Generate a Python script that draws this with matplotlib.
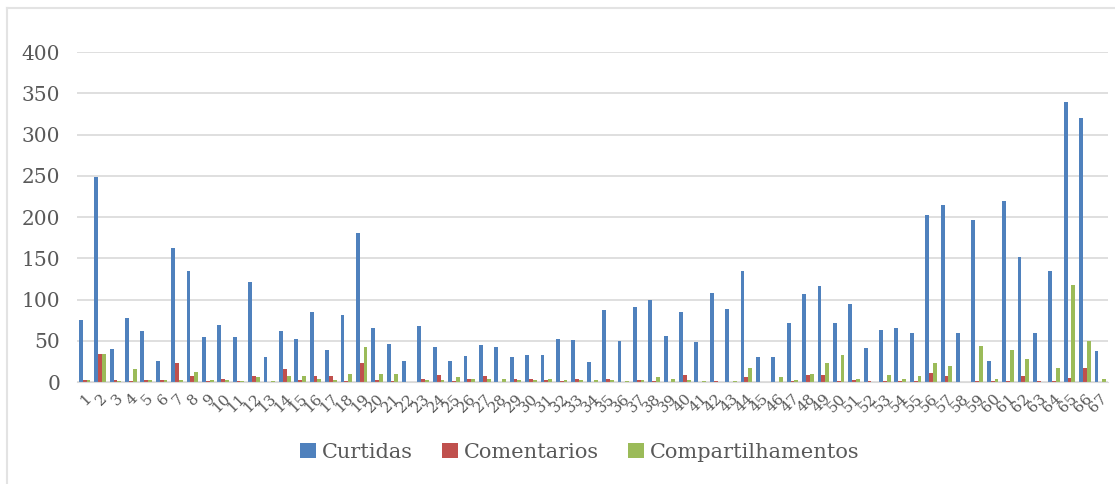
import numpy as np
import matplotlib.pyplot as plt
from matplotlib.lines import Line2D

# dados por publicacao (1..67)
posts = [str(i) for i in range(1, 68)]
curtidas = [75, 248, 40, 77, 62, 26, 162, 134, 55, 69, 54, 121, 30, 62, 52, 85, 39,
            81, 181, 65, 46, 25, 68, 43, 26, 32, 45, 43, 30, 33, 33, 52, 51, 24,
            87, 50, 91, 99, 56, 85, 49, 108, 88, 134, 30, 30, 72, 107, 116, 71,
            94, 41, 63, 65, 59, 202, 215, 60, 196, 26, 219, 151, 59, 134, 339, 320, 37]
comentarios = [3, 34, 3, 1, 3, 3, 23, 7, 1, 4, 1, 7, 0, 16, 3, 7, 7,
               1, 23, 3, 1, 0, 4, 9, 1, 4, 7, 0, 4, 4, 3, 1, 4, 0,
               4, 0, 2, 1, 0, 9, 0, 1, 0, 6, 0, 0, 1, 9, 9, 1,
               3, 1, 1, 1, 1, 11, 7, 0, 1, 1, 1, 7, 1, 1, 5, 17, 0]
compartilhamentos = [3, 34, 1, 16, 3, 3, 3, 12, 3, 2, 1, 6, 1, 7, 7, 4, 2,
                     10, 43, 10, 10, 0, 2, 3, 6, 4, 4, 4, 2, 3, 4, 3, 3, 2,
                     3, 1, 2, 6, 4, 2, 1, 0, 1, 17, 0, 6, 3, 10, 23, 33,
                     4, 0, 8, 4, 7, 23, 20, 0, 44, 4, 39, 28, 0, 17, 118, 50, 4]

azul = "#4F81BD"
vermelho = "#C0504D"
verde = "#9BBB59"
cinza = "#595959"

plt.rcParams['font.family'] = 'DejaVu Serif'

fig = plt.figure(figsize=(11.15, 4.84), dpi=100)
ax = fig.add_axes([77 / 1115, 1 - 382 / 484, (1108 - 77) / 1115, (382 - 52) / 484])

x = np.arange(len(posts))
w = 0.25
ax.bar(x - w, curtidas, w, color=azul, label="Curtidas")
ax.bar(x, comentarios, w, color=vermelho, label="Comentarios")
ax.bar(x + w, compartilhamentos, w, color=verde, label="Compartilhamentos")

ax.set_xlim(-0.5, len(posts) - 0.5)
ax.set_ylim(0, 400)
ax.set_yticks(range(0, 401, 50))
ax.grid(axis='y', color='#D9D9D9', linewidth=1.2)
ax.set_axisbelow(True)
for s in ['top', 'right', 'left']:
    ax.spines[s].set_visible(False)
ax.spines['bottom'].set_color('#D9D9D9')

ax.set_xticks(x)
ax.set_xticklabels(posts, rotation=45, ha='right', rotation_mode='anchor',
                   fontsize=11, color=cinza)
ax.tick_params(axis='x', length=0, pad=7)
ax.tick_params(axis='y', length=0, labelsize=14.5, labelcolor=cinza, pad=12)

fig.legend(loc='center', bbox_to_anchor=(580 / 1115, 1 - 452 / 484), ncol=3,
           frameon=False, fontsize=15, handlelength=0.75, handleheight=0.75,
           handletextpad=0.3, columnspacing=1.4, labelcolor=cinza)

# moldura do grafico
fig.add_artist(Line2D([7 / 1115, 7 / 1115], [0, 1 - 8 / 484], transform=fig.transFigure,
                      color='#E3E3E3', linewidth=1.5))
fig.add_artist(Line2D([7 / 1115, 1], [1 - 8 / 484, 1 - 8 / 484], transform=fig.transFigure,
                      color='#E3E3E3', linewidth=1.5))

fig.savefig("out.png", dpi=100)
